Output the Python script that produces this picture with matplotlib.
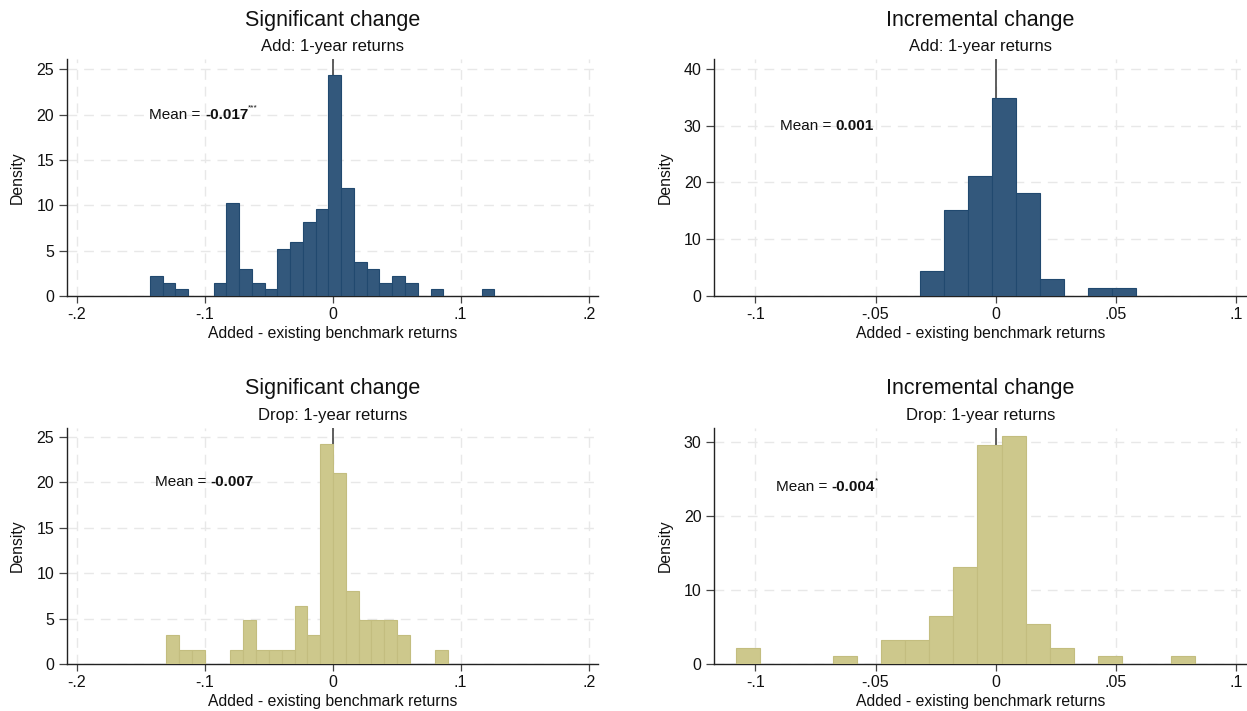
import numpy as np
import matplotlib
matplotlib.use("Agg")
import matplotlib.pyplot as plt

plt.rcParams['font.family'] = ['Liberation Sans', 'DejaVu Sans']

# histogram data (density per bin)
sig_add_start = -0.1429
sig_add_width = 0.00997
sig_add_heights = [2.2, 1.47, 0.73, 0, 0, 1.47, 10.3, 2.94, 1.47, 0.73, 5.14, 5.9, 8.15, 9.58,
                   24.4, 11.86, 3.7, 2.94, 1.47, 2.2, 1.47, 0, 0.73, 0, 0, 0, 0.73]

inc_add_start = -0.0316
inc_add_width = 0.01
inc_add_heights = [4.46, 15.1, 21.2, 34.8, 18.15, 2.93, 0, 1.41, 1.41]

sig_drop_start = -0.1299
sig_drop_width = 0.01001
sig_drop_heights = [3.22, 1.57, 1.57, 0, 0, 1.57, 4.87, 1.57, 1.57, 1.57, 6.41, 3.22, 24.2, 20.99,
                    8.05, 4.87, 4.87, 4.87, 3.22, 0, 0, 1.57]

inc_drop_start = -0.108
inc_drop_width = 0.01004
inc_drop_heights = [2.2, 0, 0, 0, 1.12, 0, 3.29, 3.29, 6.54, 13.17, 29.68, 30.8, 5.45, 2.2, 0,
                    1.12, 0, 0, 1.12]

titles = ["Significant change", "Incremental change", "Significant change", "Incremental change"]
subtitles = ["Add: 1-year returns", "Add: 1-year returns", "Drop: 1-year returns", "Drop: 1-year returns"]
means = ["-0.017", "0.001", "-0.007", "-0.004"]
stars = ["***", "", "", "*"]

wide_ticks = [-0.2, -0.1, 0, 0.1, 0.2]
wide_labels = ["-.2", "-.1", "0", ".1", ".2"]
narrow_ticks = [-0.1, -0.05, 0, 0.05, 0.1]
narrow_labels = ["-.1", "-.05", "0", ".05", ".1"]

blue = '#33587c'
blue_edge = '#21496f'
khaki = '#cdc88c'
khaki_edge = '#c3bd7f'

W, H = 1247, 711
fig = plt.figure(figsize=(W / 100, H / 100), dpi=100)

# axes boxes in pixels: left, right, top, bottom
boxes = [(66.7, 598, 59.3, 296), (714, 1247, 59.3, 296),
         (66.7, 598, 427.6, 664.3), (714, 1247, 427.6, 664.3)]
ylabel_x = [25, 673, 25, 673]

panels = [
    (sig_add_start, sig_add_width, sig_add_heights, blue, blue_edge, (-0.2078, 0.2073), 26.1,
     np.arange(0, 26, 5), wide_ticks, wide_labels, (-0.1432, 20)),
    (inc_add_start, inc_add_width, inc_add_heights, blue, blue_edge, (-0.1172, 0.1045), 41.7,
     np.arange(0, 41, 10), narrow_ticks, narrow_labels, (-0.0897, 30)),
    (sig_drop_start, sig_drop_width, sig_drop_heights, khaki, khaki_edge, (-0.2078, 0.2073), 26.0,
     np.arange(0, 26, 5), wide_ticks, wide_labels, (-0.139, 20)),
    (inc_drop_start, inc_drop_width, inc_drop_heights, khaki, khaki_edge, (-0.1172, 0.1045), 32.0,
     np.arange(0, 31, 10), narrow_ticks, narrow_labels, (-0.0914, 24)),
]

for i, (start, width, heights, fc, ec, xlim, ytop, yticks, xticks, xlabels, tpos) in enumerate(panels):
    l, r, t, b = boxes[i]
    ax = fig.add_axes([l / W, 1 - b / H, (r - l) / W, (b - t) / H])
    heights = np.array(heights)
    lefts = start + width * np.arange(len(heights))
    keep = heights > 0
    ax.bar(lefts[keep], heights[keep], width=width, align='edge', color=fc,
           edgecolor=ec, linewidth=0.8, zorder=3)
    ax.axvline(0, color='#333333', linewidth=1.1, zorder=2)

    ax.set_xlim(*xlim)
    ax.set_ylim(0, ytop)
    ax.set_xticks(xticks)
    ax.set_xticklabels(xlabels)
    ax.set_yticks(yticks)
    ax.grid(True, color='#e8e8e8', linestyle=(0, (7, 5)), linewidth=1.0, zorder=0)
    ax.set_axisbelow(True)
    for s in ['top', 'right']:
        ax.spines[s].set_visible(False)
    for s in ['left', 'bottom']:
        ax.spines[s].set_color('#222222')
        ax.spines[s].set_linewidth(1.0)
    ax.tick_params(direction='out', width=0.9, color='#444444',
                   labelsize=11.5, labelcolor='#111111', pad=3)
    ax.tick_params(axis='x', length=5)
    ax.tick_params(axis='y', length=6)

    ax.set_xlabel("Added - existing benchmark returns", fontsize=11.3, color='#111111')
    ax.xaxis.set_label_coords(0.5, -30 / (b - t))
    ax.set_ylabel("Density", fontsize=11.3, color='#111111')
    ax.yaxis.set_label_coords(-(l - ylabel_x[i]) / (r - l), 0.5)

    ax.text(0.5, 1 + 39 / (b - t), titles[i], transform=ax.transAxes, ha='center',
            va='center', fontsize=15.5, color='#111111')
    ax.text(0.5, 1 + 12.5 / (b - t), subtitles[i], transform=ax.transAxes, ha='center',
            va='center', fontsize=12, color='#111111')

    t1 = ax.text(tpos[0], tpos[1], "Mean = ", ha='left', va='center', fontsize=11,
                 color='#111111', zorder=5)
    t2 = ax.annotate(means[i], xy=(1, 0.5), xycoords=t1, ha='left', va='center',
                     fontsize=11, fontweight='bold', color='#111111', zorder=5)
    if stars[i]:
        ax.annotate(stars[i], xy=(1, 0.95), xycoords=t2, ha='left', va='center',
                    fontsize=6, color='#111111', zorder=5)

fig.savefig("out.png", dpi=100)
